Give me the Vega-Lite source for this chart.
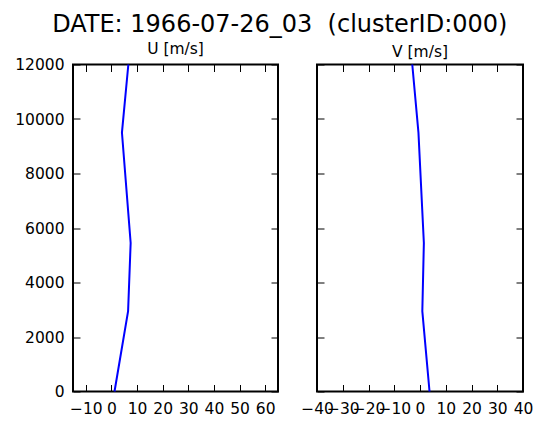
{
  "$schema": "https://vega.github.io/schema/vega-lite/v6.json",
  "title": {"text": "DATE: 1966-07-26_03\u00a0 (clusterID:000)", "fontSize": 24, "font": "DejaVu Sans", "fontWeight": "normal", "color": "#000", "offset": 4.5, "dx": 6, "anchor": "middle"},
  "padding": {"left": 13, "top": 12.5, "right": 6, "bottom": 5},
  "spacing": 19,
  "datasets": {
    "prof": [
      {"h": 0, "u": 1.2, "v": 3.7},
      {"h": 2950, "u": 6.5, "v": 0.9},
      {"h": 5450, "u": 7.5, "v": 1.5},
      {"h": 9500, "u": 4.1, "v": -0.6},
      {"h": 12000, "u": 6.6, "v": -3.0}
    ]
  },
  "hconcat": [
    {
      "width": 205, "height": 327,
      "title": {"text": "U [m/s]", "fontSize": 15.5, "font": "DejaVu Sans", "fontWeight": "normal", "color": "#000", "offset": 0},
      "data": {"name": "prof"},
      "layer": [
        {
          "mark": {"type": "line", "color": "#0000ff", "strokeWidth": 2},
          "encoding": {
            "x": {"field": "u", "type": "quantitative", "scale": {"domain": [-15, 65], "nice": false, "zero": false},
                  "axis": {"orient": "bottom", "title": null, "values": [-10, 0, 10, 20, 30, 40, 50, 60]}},
            "y": {"field": "h", "type": "quantitative", "scale": {"domain": [0, 12000], "nice": false},
                  "axis": {"orient": "left", "title": null, "format": "d", "values": [0, 2000, 4000, 6000, 8000, 10000, 12000]}},
            "order": {"field": "h"}
          }
        },
        {
          "mark": {"type": "line", "opacity": 0},
          "encoding": {
            "x": {"field": "u", "type": "quantitative",
                  "axis": {"orient": "top", "title": null, "labels": false, "values": [-10, 0, 10, 20, 30, 40, 50, 60]}},
            "y": {"field": "h", "type": "quantitative",
                  "axis": {"orient": "right", "title": null, "labels": false, "values": [0, 2000, 4000, 6000, 8000, 10000, 12000]}},
            "order": {"field": "h"}
          }
        }
      ],
      "resolve": {"axis": {"x": "independent", "y": "independent"}}
    },
    {
      "width": 206, "height": 327,
      "title": {"text": "V [m/s]", "fontSize": 15.5, "font": "DejaVu Sans", "fontWeight": "normal", "color": "#000", "offset": 0},
      "data": {"name": "prof"},
      "layer": [
        {
          "mark": {"type": "line", "color": "#0000ff", "strokeWidth": 2},
          "encoding": {
            "x": {"field": "v", "type": "quantitative", "scale": {"domain": [-40, 40], "nice": false, "zero": false},
                  "axis": {"orient": "bottom", "title": null, "values": [-40, -30, -20, -10, 0, 10, 20, 30, 40]}},
            "y": {"field": "h", "type": "quantitative", "scale": {"domain": [0, 12000], "nice": false},
                  "axis": {"orient": "left", "title": null, "labels": false, "values": [0, 2000, 4000, 6000, 8000, 10000, 12000]}},
            "order": {"field": "h"}
          }
        },
        {
          "mark": {"type": "line", "opacity": 0},
          "encoding": {
            "x": {"field": "v", "type": "quantitative",
                  "axis": {"orient": "top", "title": null, "labels": false, "values": [-40, -30, -20, -10, 0, 10, 20, 30, 40]}},
            "y": {"field": "h", "type": "quantitative",
                  "axis": {"orient": "right", "title": null, "labels": false, "values": [0, 2000, 4000, 6000, 8000, 10000, 12000]}},
            "order": {"field": "h"}
          }
        }
      ],
      "resolve": {"axis": {"x": "independent", "y": "independent"}}
    }
  ],
  "config": {
    "background": "#ffffff",
    "view": {"stroke": "#000", "strokeWidth": 2},
    "axis": {
      "domain": false, "grid": false,
      "tickSize": -7, "tickColor": "#000", "tickWidth": 1,
      "labelFont": "DejaVu Sans", "labelFontSize": 15.5, "labelColor": "#000",
      "labelOverlap": false, "labelBound": false, "labelFlush": false
    },
    "axisX": {"labelPadding": 16.5},
    "axisY": {"labelPadding": 16}
  }
}
